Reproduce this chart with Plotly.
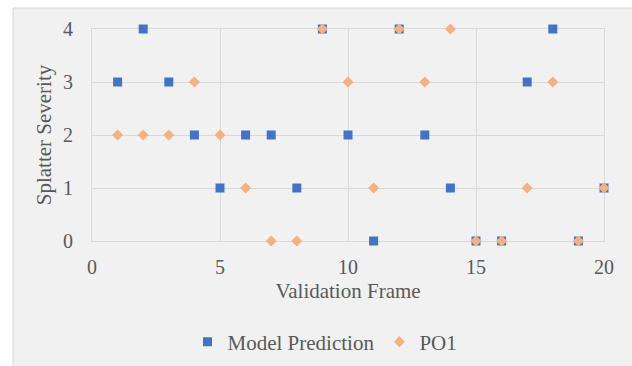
import plotly.graph_objects as go

# Validation frames and severity scores
frames = list(range(1, 21))
model_prediction = [3, 4, 3, 2, 1, 2, 2, 1, 4, 2, 0, 4, 2, 1, 0, 0, 3, 4, 0, 1]
po1 = [2, 2, 2, 3, 2, 1, 0, 0, 4, 3, 1, 4, 3, 4, 0, 0, 1, 3, 0, 1]

x_ticks = [0, 5, 10, 15, 20]
y_ticks = [0, 1, 2, 3, 4]

BLUE = "#4472C4"
ORANGE = "#F4B183"
TEXT = "#595959"
GRID = "#d9d9d9"
FONT = "Liberation Serif"

fig = go.Figure()
fig.add_trace(go.Scatter(
    x=frames, y=model_prediction, mode="markers", name="Model Prediction",
    marker=dict(symbol="square", size=9, color=BLUE, line=dict(width=0)),
    cliponaxis=False,
))
fig.add_trace(go.Scatter(
    x=frames, y=po1, mode="markers", name="PO1",
    marker=dict(symbol="diamond", size=8.5, color=ORANGE, line=dict(width=0)),
    cliponaxis=False,
))

# plot area geometry (pixels)
L, R, T, B = 92, 28, 29, 125
W, H = 632 - L - R, 366 - T - B

def px_to_paper_x(px):
    return (px - L) / W

def px_to_paper_y(py):
    return (366 - B - py) / H

# grey chart background with thin border
fig.add_shape(
    type="rect", xref="paper", yref="paper", layer="below",
    x0=px_to_paper_x(13), x1=px_to_paper_x(640),
    y0=px_to_paper_y(375), y1=px_to_paper_y(8),
    fillcolor="#f1f1f1", line=dict(color="#d6d6d6", width=1),
)

fig.update_layout(
    width=632, height=366,
    margin=dict(l=L, r=R, t=T, b=B, autoexpand=False),
    paper_bgcolor="white",
    plot_bgcolor="rgba(0,0,0,0)",
    font=dict(family=FONT, size=21, color=TEXT),
    showlegend=True,
    legend=dict(
        orientation="h", x=px_to_paper_x(325), xanchor="center",
        y=px_to_paper_y(342), yanchor="middle",
        bgcolor="rgba(0,0,0,0)", font=dict(family=FONT, size=21, color=TEXT),
        itemwidth=30, tracegroupgap=0,
    ),
    xaxis=dict(
        range=[0, 20], tickvals=x_ticks, ticktext=[str(v) for v in x_ticks],
        showgrid=True, gridcolor=GRID, gridwidth=1, zeroline=False,
        showline=True, linecolor=GRID, linewidth=1, mirror=True,
        layer="below traces",
        ticks="outside", ticklen=8, tickcolor="rgba(0,0,0,0)",
        tickfont=dict(family=FONT, size=20, color=TEXT), automargin=False,
        title=dict(text="Validation Frame", font=dict(family=FONT, size=21, color=TEXT), standoff=6),
    ),
    yaxis=dict(
        range=[0, 4], tickvals=y_ticks, ticktext=[str(v) for v in y_ticks],
        showgrid=True, gridcolor=GRID, gridwidth=1, zeroline=False,
        showline=True, linecolor=GRID, linewidth=1, mirror=True,
        layer="below traces",
        ticks="outside", ticklen=14, tickcolor="rgba(0,0,0,0)",
        tickfont=dict(family=FONT, size=20, color=TEXT), automargin=False,
        title=dict(text="Splatter Severity", font=dict(family=FONT, size=21, color=TEXT), standoff=5),
    ),
)

fig.write_html("out.html")
